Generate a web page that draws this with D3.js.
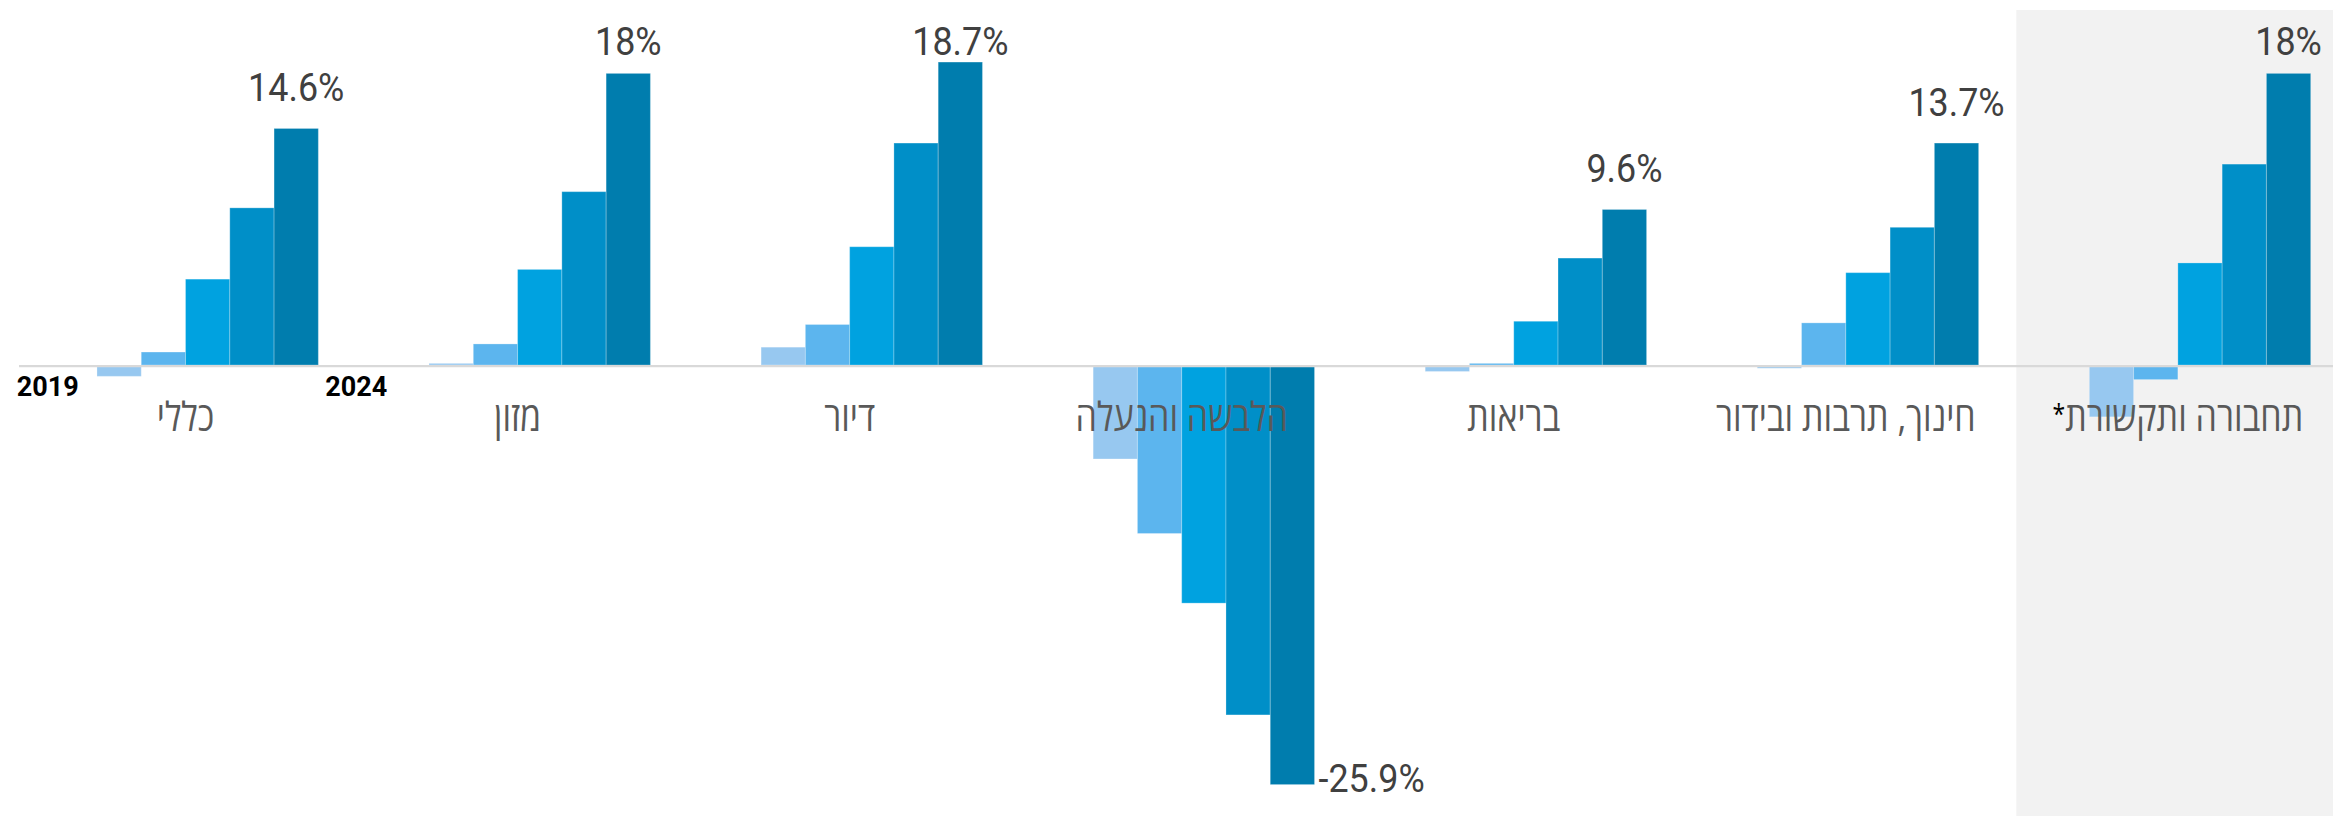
<!DOCTYPE html>
<html>
<head>
<meta charset="utf-8">
<script src="https://cdn.jsdelivr.net/npm/d3@7"></script>
<style>
  html, body { margin: 0; padding: 0; background: #ffffff; }
  svg { display: block; }
</style>
</head>
<body>
<svg id="chart" width="2333" height="816"></svg>
<script>
// ---- data ----
const categories = ["כללי", "מזון", "דיור", "הלבשה והנעלה", "בריאות", "חינוך, תרבות ובידור", "תחבורה ותקשורת"];
const years = ["2019", "2020", "2021", "2022", "2023", "2024"];
const v2019 = [0, 0, 0, 0, 0, 0, 0];
const v2020 = [-0.7, 0.1, 1.1, -5.8, -0.4, -0.2, -3.2];
const v2021 = [0.8, 1.3, 2.5, -10.4, 0.1, 2.6, -0.9];
const v2022 = [5.3, 5.9, 7.3, -14.7, 2.7, 5.7, 6.3];
const v2023 = [9.7, 10.7, 13.7, -21.6, 6.6, 8.5, 12.4];
const v2024 = [14.6, 18, 18.7, -25.9, 9.6, 13.7, 18];
const yearLabels = ["2019", "2024"];
const highlighted = "תחבורה ותקשורת";

const series = [v2019, v2020, v2021, v2022, v2023, v2024];
const colors = ["#97c8f0", "#97c8f0", "#5cb5ee", "#00a2e0", "#008fc8", "#007dae"];

const W = 2333, H = 816;
const svg = d3.select("#chart");

const x0 = d3.scaleBand().domain(categories).range([52.7, 2310.7]).paddingInner(0.2);
const x1 = d3.scaleBand().domain(years).range([0, x0.bandwidth()]);
const y = d3.scaleLinear().domain([-26, 19]).range([365 + 26 * 16.2, 365 - 19 * 16.2]);

const rows = categories.map((c, i) => ({
  cat: c,
  vals: years.map((yr, j) => ({ yr, v: series[j][i], cat: c }))
}));

// highlight panel
svg.append("rect")
  .attr("x", x0(highlighted) - 28.7)
  .attr("y", 10)
  .attr("width", W - (x0(highlighted) - 28.7))
  .attr("height", H - 10)
  .attr("fill", "#f2f2f2");

// bars
const g = svg.selectAll("g.grp").data(rows).join("g")
  .attr("class", "grp")
  .attr("transform", d => `translate(${x0(d.cat)},0)`);

g.selectAll("rect").data(d => d.vals.filter(e => e.v !== 0)).join("rect")
  .attr("x", d => x1(d.yr))
  .attr("width", x1.bandwidth())
  .attr("y", d => Math.min(y(d.v), y(0)))
  .attr("height", d => Math.abs(y(d.v) - y(0)))
  .attr("fill", d => colors[years.indexOf(d.yr)])
  .attr("stroke", "rgba(255,255,255,0.25)")
  .attr("stroke-width", 1);

// baseline
svg.append("line")
  .attr("x1", 19).attr("x2", W)
  .attr("y1", y(0) + 1.1).attr("y2", y(0) + 1.1)
  .attr("stroke", "#d9d9d9")
  .attr("stroke-width", 2.3);

// value labels (last year)
const last = years[years.length - 1];
const numCondense = 0.92;
g.append("text")
  .attr("font-family", "Roboto, 'Liberation Sans', sans-serif")
  .attr("font-size", 39)
  .attr("fill", "#404040")
  .each(function (d) {
    const v = d.vals[d.vals.length - 1].v;
    const t = d3.select(this).text(v + "%");
    if (v >= 0) {
      t.attr("text-anchor", "middle")
        .attr("transform", `translate(${x1(last) + x1.bandwidth() / 2},${Math.max(y(v) - 27, 55)}) scale(${numCondense},1)`);
    } else {
      t.attr("text-anchor", "start")
        .attr("transform", `translate(${x1(last) + x1.bandwidth() + 4},${y(v) + 7}) scale(${numCondense},1)`);
    }
  });

// category labels
const condense = 0.85;
g.append("text")
  .attr("transform", d => `translate(${x0.bandwidth() / 2},431) scale(${condense},1)`)
  .attr("text-anchor", "middle")
  .attr("direction", "rtl")
  .attr("font-family", "'Open Sans', 'Liberation Sans', 'DejaVu Sans', sans-serif")
  .attr("font-size", 40)
  .attr("fill", "#595959")
  .each(function (d) {
    const t = d3.select(this);
    t.append("tspan").text(d.cat);
    if (d.cat === highlighted) {
      t.append("tspan").attr("fill", "#000").attr("font-size", 27).attr("dy", -7).text("*");
    }
  });

// year labels
const g0 = categories[0];
svg.append("text")
  .attr("x", x0(g0) + 26).attr("y", 396)
  .attr("text-anchor", "end")
  .attr("font-family", "Roboto, 'Liberation Sans', sans-serif")
  .attr("font-weight", 700).attr("font-size", 27).attr("fill", "#000")
  .text(yearLabels[0]);
svg.append("text")
  .attr("x", x0(g0) + x0.bandwidth() + 7).attr("y", 396)
  .attr("text-anchor", "start")
  .attr("font-family", "Roboto, 'Liberation Sans', sans-serif")
  .attr("font-weight", 700).attr("font-size", 27).attr("fill", "#000")
  .text(yearLabels[1]);
</script>
</body>
</html>
